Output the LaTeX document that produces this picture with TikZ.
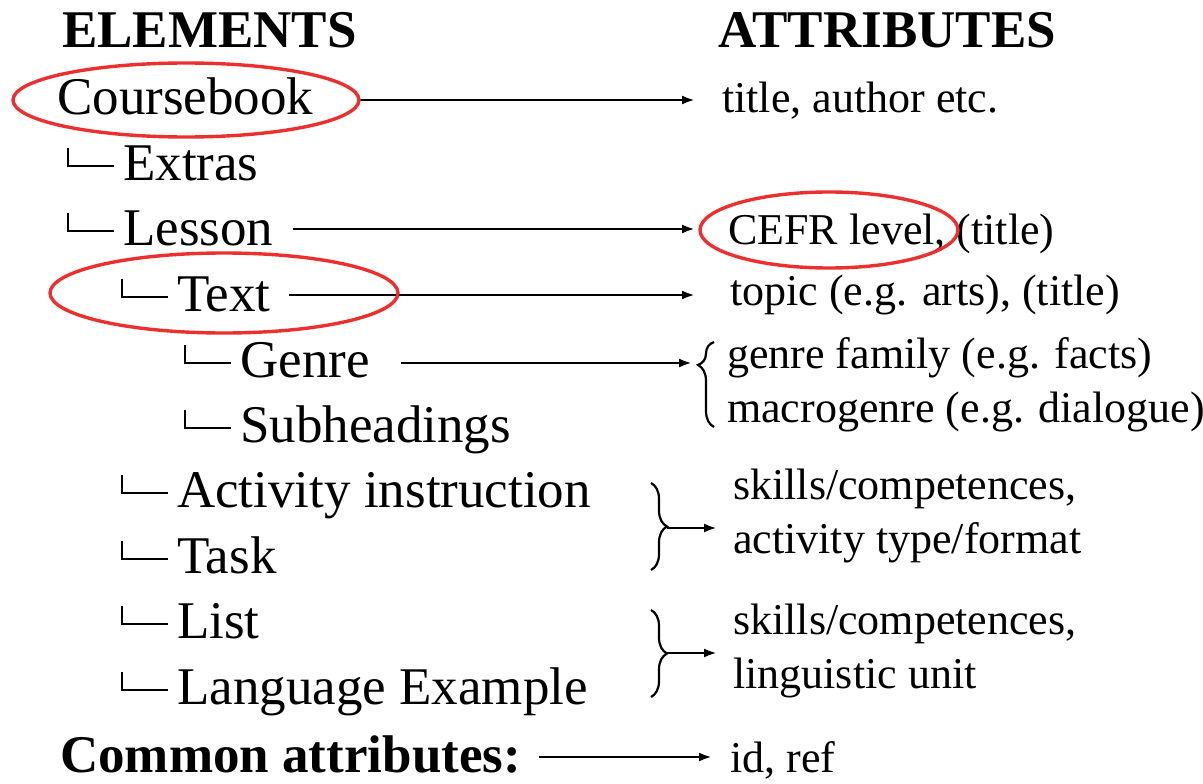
\documentclass[tikz,border=0pt]{standalone}
\usepackage{fontspec}
\setmainfont{Liberation Serif}
\usetikzlibrary{arrows.meta,decorations.pathreplacing}
\definecolor{markred}{RGB}{236,48,48}
\tikzset{elem/.style={anchor=base west, inner sep=0pt, font=\fontsize{53}{60}\selectfont}}
\tikzset{head/.style={anchor=base west, inner sep=0pt, font=\fontsize{53}{60}\selectfont\bfseries}}
\tikzset{attr/.style={anchor=base west, inner sep=0pt, font=\fontsize{44}{52}\selectfont}}
\tikzset{arr/.style={line width=2.8pt, -{Latex[length=13pt,width=9pt]}}}
\tikzset{tree/.style={line width=2.8pt}}
\tikzset{curly/.style={line width=2.2pt, decorate, decoration={brace, amplitude=16pt}}}
\tikzset{hilite/.style={draw=markred, line width=3.4pt}}

\begin{document}
\begin{tikzpicture}[x=1pt, y=-1pt]
        \useasboundingbox (0, 0) rectangle (1203, 784);
        % place nodes
        \node[head] at (62, 48)    (h0) {ELEMENTS};
        \node[head] at (718, 48)   (h1) {ATTRIBUTES};

        \node[elem] at (57, 114)   (e0) {Coursebook};
        \node[elem] at (123, 180)  (e1) {Extras};
        \node[elem] at (123, 245)  (e2) {Lesson};
        \node[elem] at (177, 311)  (e3) {Text};
        \node[elem] at (240, 377)  (e4) {Genre};
        \node[elem] at (240, 442)  (e5) {Subheadings};
        \node[elem] at (177, 507)  (e6) {Activity instruction};
        \node[elem] at (177, 573)  (e7) {Task};
        \node[elem] at (177, 638)  (e8) {List};
        \node[elem] at (177, 704)  (e9) {Language Example};
        \node[head] at (60, 772)   (ec) {Common attributes:};

        \node[attr] at (722, 113)  (a0) {title, author etc.};
        \node[attr] at (728, 244)  (a2) {CEFR level, (title)};
        \node[attr] at (730, 305)  (a3) {topic (e.g. arts), (title)};
        \node[attr] at (727, 368)  (a4) {genre family (e.g. facts)};
        \node[attr] at (727, 422)  (a5) {macrogenre (e.g. dialogue)};
        \node[attr] at (733, 499)  (a6) {skills/competences,};
        \node[attr] at (733, 553)  (a7) {activity type/format};
        \node[attr] at (733, 634)  (a8) {skills/competences,};
        \node[attr] at (733, 688)  (a9) {linguistic unit};
        \node[attr] at (730, 772)  (ac) {id, ref};

        \coordinate (t1) at (667, 528);
        \coordinate (t2) at (667, 653);

        % tree marks
        \foreach \n in {e1, e2, e3, e4, e5, e6, e7, e8, e9}
            \draw[tree] ([xshift=-55pt, yshift=32pt]\n.base west) |- ([xshift=-9pt, yshift=14pt]\n.base west);

        % draw edges
        \draw[arr] ([xshift=45pt, yshift=14pt]e0.base east) -- ([xshift=-27pt, yshift=14pt]e0.base east -| a0.west);
        \draw[arr] ([xshift=19pt, yshift=16pt]e2.base east) -- ([xshift=-33pt, yshift=16pt]e2.base east -| a2.west);
        \draw[arr] ([xshift=18pt, yshift=16pt]e3.base east) -- ([xshift=-35pt, yshift=16pt]e3.base east -| a3.west);
        \draw[arr] ([xshift=31pt, yshift=14pt]e4.base east) -- ([xshift=-35pt, yshift=14pt]e4.base east -| a4.west);
        \draw[arr] ([xshift=18pt, yshift=15pt]ec.base east) -- ([xshift=-18pt, yshift=15pt]ec.base east -| ac.west);
        \draw[arr] (t1) -- ([xshift=-16pt]t1 -| a6.west);
        \draw[arr] (t2) -- ([xshift=-16pt]t2 -| a8.west);

        % braces
        \draw[curly, decoration={brace, amplitude=16pt, aspect=0.73}] (714, 427) -- (714, 342);
        \draw[curly] (651, 483) -- (651, 570);
        \draw[curly] (651, 610) -- (651, 697);

        % red marks
        \draw[hilite] (186, 100) ellipse [x radius=173pt, y radius=37pt];
        \draw[hilite] (224, 293) ellipse [x radius=174pt, y radius=40pt];
        \draw[hilite] (829, 230) ellipse [x radius=129pt, y radius=38pt];
    \end{tikzpicture}
\end{document}
